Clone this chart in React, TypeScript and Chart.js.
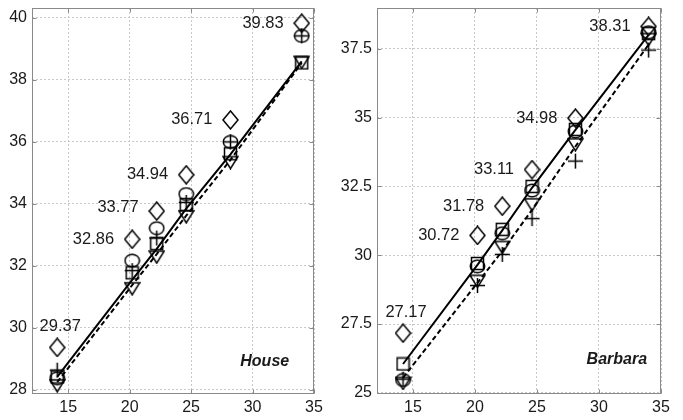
import React, { useEffect, useRef } from "react";
import { Chart, registerables } from "chart.js";
Chart.register(...registerables);

// ---------- data ----------
const xTicks = [15, 20, 25, 30, 35];
const houseYTicks = [28, 30, 32, 34, 36, 38, 40];
const barbaraYTicks = [25, 27.5, 30, 32.5, 35, 37.5];

const houseX = [14.1, 20.2, 22.2, 24.6, 28.2, 34.0];
const houseDiamond = [29.37, 32.86, 33.77, 34.94, 36.71, 39.83];
const houseCircle = [28.38, 32.17, 33.22, 34.32, 36.0, 39.42];
const housePlus = [28.64, 31.85, 32.9, 34.05, 36.0, 39.42];
const houseSquare = [28.42, 31.78, 32.72, 33.98, 35.62, 38.55];
const houseTriangle = [28.15, 31.28, 32.3, 33.6, 35.35, 38.58];
const houseSolid = [28.42, 31.55, 32.55, 33.85, 35.6, 38.6];
const houseDashed = [28.25, 31.38, 32.38, 33.62, 35.42, 38.55];

const barbaraX = [14.2, 20.2, 22.2, 24.6, 28.1, 34.0];
const barbaraDiamond = [27.17, 30.72, 31.78, 33.11, 34.98, 38.31];
const barbaraCircle = [25.47, 29.6, 30.8, 32.35, 34.5, 38.1];
const barbaraPlus = [25.5, 28.9, 30.03, 31.33, 33.42, 37.45];
const barbaraSquare = [26.05, 29.7, 30.94, 32.5, 34.57, 38.05];
const barbaraTriangle = [25.36, 29.07, 30.3, 31.85, 34.03, 37.85];
const barbaraSolid = [26.05, 29.65, 30.9, 32.45, 34.55, 38.0];
const barbaraDashed = [25.55, 29.0, 30.15, 31.65, 33.95, 37.65];

// ---------- markers ----------
function marker(kind: string): HTMLCanvasElement {
  const c = document.createElement("canvas");
  const sizes: Record<string, [number, number]> = {
    diamond: [17, 20],
    circle: [17, 15],
    plus: [17, 17],
    square: [15, 15],
    triangle: [17, 15],
  };
  const [w, h] = sizes[kind];
  c.width = w;
  c.height = h;
  const ctx = c.getContext("2d")!;
  ctx.strokeStyle = "#000";
  ctx.lineWidth = 1.5;
  ctx.beginPath();
  if (kind === "diamond") {
    ctx.moveTo(8.5, 1);
    ctx.lineTo(16, 10);
    ctx.lineTo(8.5, 19);
    ctx.lineTo(1, 10);
    ctx.closePath();
  } else if (kind === "circle") {
    ctx.ellipse(8.5, 7.5, 7.2, 6.3, 0, 0, Math.PI * 2);
  } else if (kind === "plus") {
    ctx.moveTo(1, 8.5);
    ctx.lineTo(16, 8.5);
    ctx.moveTo(8.5, 1);
    ctx.lineTo(8.5, 16);
  } else if (kind === "square") {
    ctx.rect(1.5, 1.5, 12, 12);
  } else {
    ctx.moveTo(1, 2);
    ctx.lineTo(16, 2);
    ctx.lineTo(8.5, 14);
    ctx.closePath();
  }
  ctx.stroke();
  return c;
}

type PanelCfg = {
  xs: number[];
  diamond: number[];
  circle: number[];
  plus: number[];
  square: number[];
  triangle: number[];
  solid: number[];
  dashed: number[];
  yTicks: number[];
  xMin: number;
  yMin: number;
  yMax: number;
  yAxisWidth: number;
  padRight: number;
  title: string;
  titleX: number;
  titleY: number;
};

const pts = (xs: number[], ys: number[]) => ys.map((y, i) => ({ x: xs[i], y }));

function buildChart(canvas: HTMLCanvasElement, cfg: PanelCfg) {
  const font = "'Liberation Sans', Arial, sans-serif";
  const markerDs = (data: number[], style: HTMLCanvasElement) => ({
    data: pts(cfg.xs, data),
    pointStyle: style as any,
    pointRadius: 7,
    pointHoverRadius: 7,
    showLine: false,
    borderColor: "#000",
    backgroundColor: "transparent",
  });
  const lineDs = (data: number[], dash: number[]) => ({
    data: pts(cfg.xs, data),
    showLine: true,
    pointRadius: 0,
    borderColor: "#000",
    borderWidth: 2,
    borderDash: dash,
    fill: false,
  });

  const deco = {
    id: "deco",
    afterDraw(chart: any) {
      const { ctx, chartArea: a, scales } = chart;
      const xs = scales.x;
      const ys = scales.y;
      ctx.save();
      // box + inward ticks
      ctx.strokeStyle = "#8a8a8a";
      ctx.lineWidth = 1;
      const L = Math.round(a.left) + 0.5;
      const R = Math.round(a.right) - 0.5;
      const T = Math.round(a.top) + 0.5;
      const B = Math.round(a.bottom) - 0.5;
      ctx.strokeRect(L, T, R - L, B - T);
      ctx.beginPath();
      xTicks.forEach((v) => {
        const px = Math.round(xs.getPixelForValue(v)) + 0.5;
        ctx.moveTo(px, B);
        ctx.lineTo(px, B - 4);
        ctx.moveTo(px, T);
        ctx.lineTo(px, T + 4);
      });
      cfg.yTicks.forEach((v) => {
        const py = Math.round(ys.getPixelForValue(v)) + 0.5;
        ctx.moveTo(L, py);
        ctx.lineTo(L + 4, py);
        ctx.moveTo(R, py);
        ctx.lineTo(R - 4, py);
      });
      ctx.stroke();
      // value labels next to diamonds
      ctx.fillStyle = "#1a1a1a";
      ctx.font = `16.5px ${font}`;
      ctx.textBaseline = "middle";
      cfg.diamond.forEach((v, i) => {
        const px = xs.getPixelForValue(cfg.xs[i]);
        const py = ys.getPixelForValue(v);
        const txt = v.toFixed(2);
        if (i === 0) {
          ctx.textAlign = "center";
          ctx.fillText(txt, px + 3, py - 21);
        } else {
          ctx.textAlign = "right";
          ctx.fillText(txt, px - 18, py + (i === 2 && cfg.title === "House" ? -4 : 0));
        }
      });
      // panel title
      ctx.font = `italic bold 16px ${font}`;
      ctx.textAlign = "left";
      ctx.fillText(cfg.title, xs.getPixelForValue(cfg.titleX), ys.getPixelForValue(cfg.titleY));
      ctx.restore();
    },
  };

  const tickFont = { family: font, size: 16 };

  return new Chart(canvas, {
    type: "scatter",
    data: {
      datasets: [
        lineDs(cfg.solid, []),
        lineDs(cfg.dashed, [5, 3]),
        markerDs(cfg.diamond, marker("diamond")),
        markerDs(cfg.circle, marker("circle")),
        markerDs(cfg.plus, marker("plus")),
        markerDs(cfg.square, marker("square")),
        markerDs(cfg.triangle, marker("triangle")),
      ] as any,
    },
    options: {
      responsive: false,
      animation: false,
      devicePixelRatio: 1,
      layout: { padding: { left: 0, top: 5, right: cfg.padRight, bottom: 0 } },
      plugins: { legend: { display: false }, tooltip: { enabled: false } },
      scales: {
        x: {
          type: "linear",
          min: cfg.xMin,
          max: 35,
          afterBuildTicks: (s: any) => {
            s.ticks = xTicks.map((v) => ({ value: v }));
          },
          afterFit: (s: any) => {
            s.height = 26;
            s.paddingLeft = 0;
            s.paddingRight = 0;
          },
          ticks: {
            font: tickFont,
            color: "#1a1a1a",
            padding: 4,
            maxRotation: 0,
            autoSkip: false,
            callback: (v: any) => String(v),
          },
          grid: { color: "#c8c8c8", lineWidth: 1, drawTicks: false },
          border: { display: false, dash: [2, 2] },
        },
        y: {
          type: "linear",
          min: cfg.yMin,
          max: cfg.yMax,
          afterBuildTicks: (s: any) => {
            s.ticks = cfg.yTicks.map((v) => ({ value: v }));
          },
          afterFit: (s: any) => {
            s.width = cfg.yAxisWidth;
            s.paddingTop = 0;
            s.paddingBottom = 0;
          },
          ticks: {
            font: tickFont,
            color: "#1a1a1a",
            padding: 5,
            autoSkip: false,
            callback: (v: any) => String(v),
          },
          grid: { color: "#c8c8c8", lineWidth: 1, drawTicks: false },
          border: { display: false, dash: [2, 2] },
        },
      },
    },
    plugins: [deco],
  } as any);
}

const houseCfg: PanelCfg = {
  xs: houseX,
  diamond: houseDiamond,
  circle: houseCircle,
  plus: housePlus,
  square: houseSquare,
  triangle: houseTriangle,
  solid: houseSolid,
  dashed: houseDashed,
  yTicks: houseYTicks,
  xMin: 12.05,
  yMin: 27.87,
  yMax: 40.32,
  yAxisWidth: 32,
  padRight: 26,
  title: "House",
  titleX: 29.0,
  titleY: 28.9,
};

const barbaraCfg: PanelCfg = {
  xs: barbaraX,
  diamond: barbaraDiamond,
  circle: barbaraCircle,
  plus: barbaraPlus,
  square: barbaraSquare,
  triangle: barbaraTriangle,
  solid: barbaraSolid,
  dashed: barbaraDashed,
  yTicks: barbaraYTicks,
  xMin: 12.1,
  yMin: 24.96,
  yMax: 38.98,
  yAxisWidth: 37,
  padRight: 22,
  title: "Barbara",
  titleX: 29.0,
  titleY: 26.2,
};

export default function App() {
  const leftRef = useRef<HTMLCanvasElement>(null);
  const rightRef = useRef<HTMLCanvasElement>(null);
  useEffect(() => {
    const c1 = buildChart(leftRef.current!, houseCfg);
    const c2 = buildChart(rightRef.current!, barbaraCfg);
    return () => {
      c1.destroy();
      c2.destroy();
    };
  }, []);
  return (
    <div style={{ position: "absolute", left: 0, top: 0, width: 683, height: 420, background: "#fff" }}>
      <canvas ref={leftRef} width={340} height={420} style={{ position: "absolute", left: 0, top: 0 }} />
      <canvas ref={rightRef} width={343} height={420} style={{ position: "absolute", left: 340, top: 0 }} />
    </div>
  );
}
